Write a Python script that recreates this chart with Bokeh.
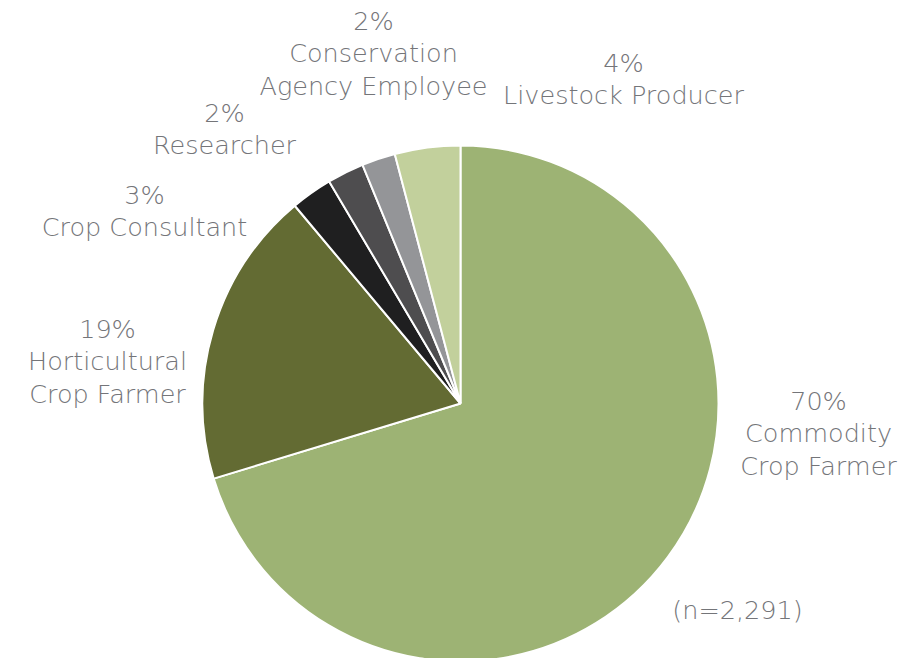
from bokeh.plotting import figure
from bokeh.models import Range1d, ColumnDataSource
from bokeh.core.properties import value
from bokeh.embed import file_html
from bokeh.resources import INLINE
import math

# ---- data ----
categories = ["Commodity Crop Farmer", "Horticultural Crop Farmer", "Crop Consultant",
              "Researcher", "Conservation Agency Employee", "Livestock Producer"]
shares = [70.3, 18.6, 2.6, 2.3, 2.1, 4.1]
pct_labels = ["70%", "19%", "3%", "2%", "2%", "4%"]
label_lines = [["Commodity", "Crop Farmer"], ["Horticultural", "Crop Farmer"], ["Crop Consultant"],
               ["Researcher"], ["Conservation", "Agency Employee"], ["Livestock Producer"]]
colors = ["#9db374", "#636b33", "#1f1f20", "#4e4d4f", "#949598", "#c2d09c"]
note = "(n=2,291)"

W, H = 899, 658
p = figure(width=W, height=H, output_backend="svg", toolbar_location=None,
           x_range=Range1d(0, W), y_range=Range1d(0, H), min_border=0)
p.axis.visible = False
p.grid.visible = False
p.outline_line_color = None
p.background_fill_color = "white"

def Y(y_img):
    return H - y_img
def X(x_img):
    return x_img

cx, cy, r = X(460), Y(403), 258
total = sum(shares)
starts, ends = [], []
cum = 0.0
for s in shares:
    a_start = math.radians(90 - (cum + s) / total * 360)
    a_end = math.radians(90 - cum / total * 360)
    starts.append(a_start)
    ends.append(a_end)
    cum += s

src = ColumnDataSource(dict(cat=categories, start=starts, end=ends, color=colors))
p.wedge(x=cx, y=cy, radius=r, start_angle="start", end_angle="end", fill_color="color",
        line_color="white", line_width=2, source=src)

# label anchor positions (image px): center x, first line y
label_pos = [(818, 400), (107, 328), (144, 194), (224, 112), (373, 20), (623, 62)]
line_h = 32.5
tx, ty, tt = [], [], []
for (lx, ly), pct, lines in zip(label_pos, pct_labels, label_lines):
    for i, t in enumerate([pct] + lines):
        tx.append(X(lx)); ty.append(Y(ly + i * line_h)); tt.append(t)
tx.append(X(737)); ty.append(Y(609)); tt.append(note)

p.text(x=tx, y=ty, text=tt, text_align="center", text_baseline="middle",
       text_font=value("DejaVu Sans Light"), text_font_size="25.5px", text_color="#747579")

open("out.html", "w").write(file_html(p, INLINE))
